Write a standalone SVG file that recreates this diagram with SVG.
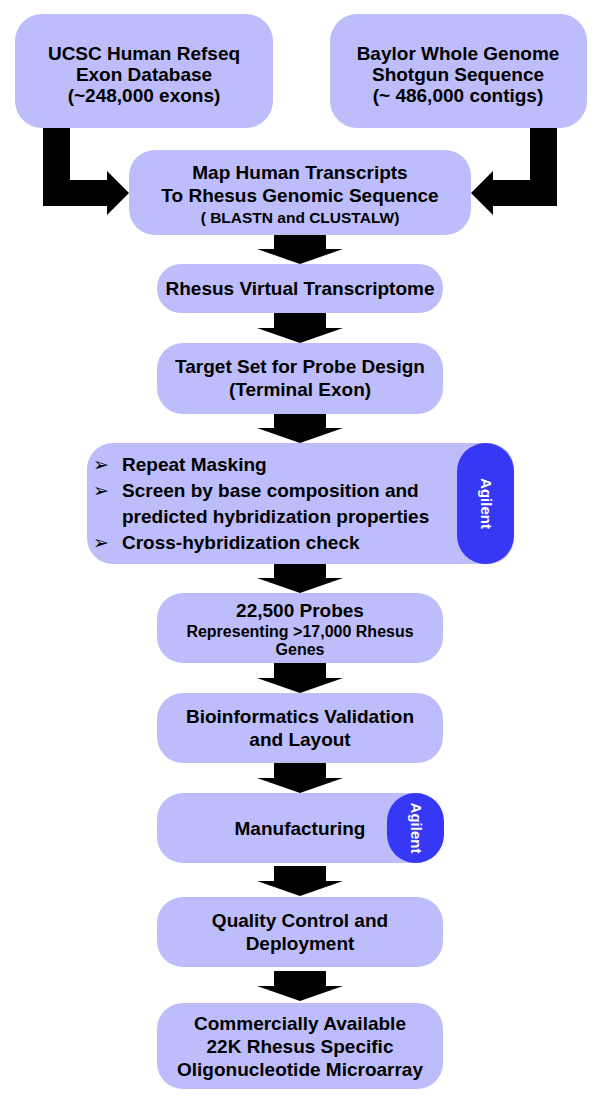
<svg xmlns="http://www.w3.org/2000/svg" width="600" height="1100" viewBox="0 0 600 1100">
<style>
.box{fill:#BDBDFB}
.pill{fill:#3737F6}
.t{font-family:"Liberation Sans",Arial,sans-serif;font-weight:bold;fill:#000;text-anchor:middle;font-size:19px}
.s{font-size:16px}
.xs{font-size:15.5px}
.l{text-anchor:start}
.b{font-family:"DejaVu Sans",sans-serif;font-size:19px;fill:#000}
.ag{font-family:"Liberation Sans",Arial,sans-serif;font-weight:bold;fill:#fff;text-anchor:middle;font-size:15px}
.arr{fill:#000}
</style>
<defs>
<path id="down" d="M-26,0 H26 V15 H43 L0,30 L-43,15 H-26 Z"/>
</defs>
<rect width="600" height="1100" fill="#fff"/>
<g id="connectors">
<path class="arr" d="M43,127 H70 V180 H107 V171 L129,193 L107,215 V206 H43 Z"/>
<path class="arr" d="M557,127 H530 V180 H493 V171 L471,193 L493,215 V206 H557 Z"/>
<use href="#down" class="arr" x="300" y="234"/>
<use href="#down" class="arr" x="300" y="313"/>
<use href="#down" class="arr" x="300" y="413"/>
<use href="#down" class="arr" x="300" y="563"/>
<use href="#down" class="arr" x="300" y="663"/>
<use href="#down" class="arr" x="300" y="763"/>
<use href="#down" class="arr" x="300" y="866"/>
<use href="#down" class="arr" x="300" y="971"/>
</g>
<g id="ucsc">
<rect class="box" x="15" y="14" width="258" height="114" rx="27"/>
<text class="t" x="144" y="60">UCSC Human Refseq</text>
<text class="t" x="144" y="81">Exon Database</text>
<text class="t" x="144" y="102">(~248,000 exons)</text>
</g>
<g id="baylor">
<rect class="box" x="330" y="14" width="257" height="114" rx="27"/>
<text class="t" x="458" y="60">Baylor Whole Genome</text>
<text class="t" x="458" y="81">Shotgun Sequence</text>
<text class="t" x="458" y="102">(~ 486,000 contigs)</text>
</g>
<g id="map">
<rect class="box" x="129" y="150" width="342" height="85" rx="26"/>
<text class="t" x="300" y="179">Map Human Transcripts</text>
<text class="t" x="300" y="202">To Rhesus Genomic Sequence</text>
<text class="t xs" x="300" y="223">( BLASTN and CLUSTALW)</text>
</g>
<g id="rhesus">
<rect class="box" x="157" y="264" width="286" height="49" rx="24"/>
<text class="t" x="300" y="295">Rhesus Virtual Transcriptome</text>
</g>
<g id="target">
<rect class="box" x="157" y="343" width="286" height="71" rx="26"/>
<text class="t" x="300" y="373">Target Set for Probe Design</text>
<text class="t" x="300" y="396">(Terminal Exon)</text>
</g>
<g id="design">
<rect class="box" x="87" y="443" width="427" height="121" rx="26"/>
<text class="b" x="93" y="471">➢</text>
<text class="b" x="93" y="497">➢</text>
<text class="b" x="93" y="549">➢</text>
<text class="t l" x="122" y="471">Repeat Masking</text>
<text class="t l" x="122" y="497">Screen by base composition and</text>
<text class="t l" x="122" y="523">predicted hybridization properties</text>
<text class="t l" x="122" y="549">Cross-hybridization check</text>
<rect class="pill" x="457" y="443" width="57" height="121" rx="28.5"/>
<text class="ag" transform="translate(480.5,503.5) rotate(90)">Agilent</text>
</g>
<g id="probes">
<rect class="box" x="157" y="593" width="286" height="70" rx="26"/>
<text class="t" x="300" y="617">22,500 Probes</text>
<text class="t s" x="300" y="637">Representing &gt;17,000 Rhesus</text>
<text class="t s" x="300" y="655">Genes</text>
</g>
<g id="bioinf">
<rect class="box" x="157" y="693" width="286" height="70" rx="26"/>
<text class="t" x="300" y="723">Bioinformatics Validation</text>
<text class="t" x="300" y="746">and Layout</text>
</g>
<g id="manufacturing">
<rect class="box" x="157" y="793" width="286" height="70" rx="26"/>
<text class="t" x="300" y="835">Manufacturing</text>
<rect class="pill" x="387" y="793" width="57" height="70" rx="28.5"/>
<text class="ag" transform="translate(410.5,828) rotate(90)">Agilent</text>
</g>
<g id="qc">
<rect class="box" x="157" y="897" width="286" height="70" rx="26"/>
<text class="t" x="300" y="927">Quality Control and</text>
<text class="t" x="300" y="950">Deployment</text>
</g>
<g id="array">
<rect class="box" x="157" y="1003" width="286" height="86" rx="26"/>
<text class="t" x="300" y="1030">Commercially Available</text>
<text class="t" x="300" y="1053">22K Rhesus Specific</text>
<text class="t" x="300" y="1076">Oligonucleotide Microarray</text>
</g>
</svg>
